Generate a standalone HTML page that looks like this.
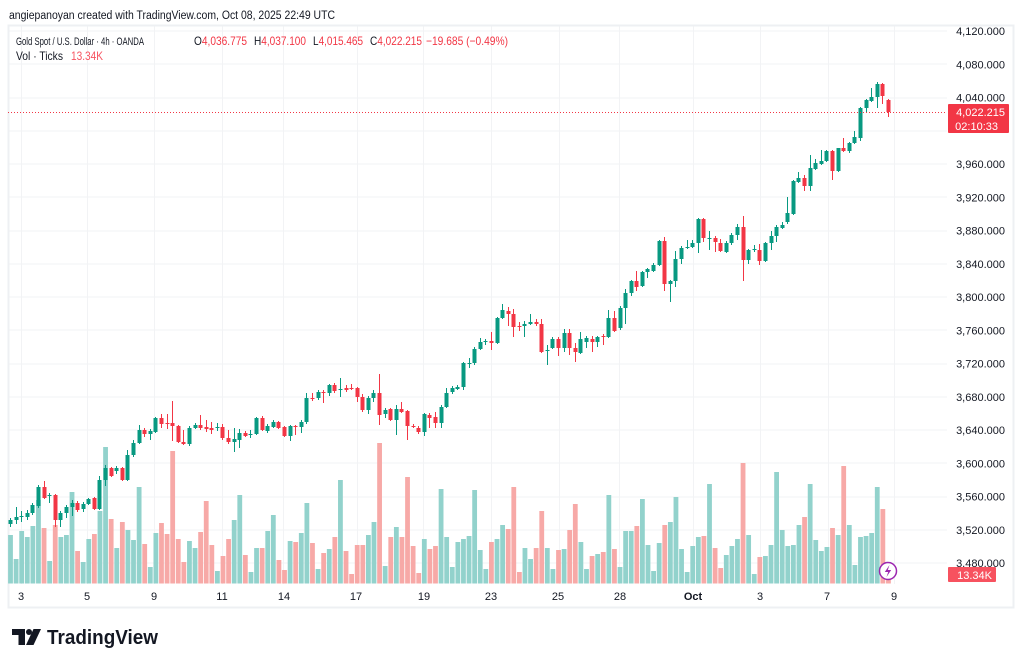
<!DOCTYPE html>
<html><head><meta charset="utf-8"><style>
html,body{margin:0;padding:0;background:#fff;}
svg{display:block;font-family:"Liberation Sans",sans-serif;}
</style></head><body>
<svg id="s" xmlns="http://www.w3.org/2000/svg" width="1024" height="665" viewBox="0 0 1024 665">
<rect x="0" y="0" width="1024" height="665" fill="#ffffff"/>
<g id="grid"></g>
<rect x="8.5" y="25.5" width="1005" height="582" fill="none" stroke="#eef0f3" stroke-width="2"/>
<g id="vol"></g>
<g id="cnd"></g>
<line x1="8" y1="112.5" x2="947" y2="112.5" stroke="#f23645" stroke-width="1" stroke-dasharray="1 2"/>
<!-- header -->
<text x="9" y="19" font-size="11.5" fill="#131722" textLength="326" lengthAdjust="spacingAndGlyphs">angiepanoyan created with TradingView.com, Oct 08, 2025 22:49 UTC</text>
<!-- legend -->
<g font-size="12" fill="#131722">
<text x="16" y="45" font-size="11" textLength="128" lengthAdjust="spacingAndGlyphs">Gold Spot / U.S. Dollar · 4h · OANDA</text>
<text x="194" y="45" textLength="53" lengthAdjust="spacingAndGlyphs"><tspan fill="#131722">O</tspan><tspan fill="#f23645">4,036.775</tspan></text>
<text x="254" y="45" textLength="52" lengthAdjust="spacingAndGlyphs"><tspan fill="#131722">H</tspan><tspan fill="#f23645">4,037.100</tspan></text>
<text x="313" y="45" textLength="50" lengthAdjust="spacingAndGlyphs"><tspan fill="#131722">L</tspan><tspan fill="#f23645">4,015.465</tspan></text>
<text x="370" y="45" textLength="52" lengthAdjust="spacingAndGlyphs"><tspan fill="#131722">C</tspan><tspan fill="#f23645">4,022.215</tspan></text>
<text x="426" y="45" fill="#f23645" textLength="82" lengthAdjust="spacingAndGlyphs">−19.685 (−0.49%)</text>
<text x="16" y="60" textLength="47" lengthAdjust="spacingAndGlyphs">Vol · Ticks</text>
<text x="71" y="60" fill="#f7525f" textLength="32" lengthAdjust="spacingAndGlyphs">13.34K</text>
</g>
<!-- price axis -->
<g id="pax" font-size="11" fill="#131722" text-anchor="end"></g>
<!-- price tag -->
<rect x="948" y="104" width="61" height="29" rx="1" fill="#f23645"/>
<text x="1005" y="116" font-size="11" fill="#ffffff" text-anchor="end">4,022.215</text>
<text x="998" y="130" font-size="11" fill="#ffffff" text-anchor="end">02:10:33</text>
<!-- volume tag -->
<rect x="948" y="567" width="48" height="15" rx="1" fill="#f7525f"/>
<text x="992" y="579" font-size="11" fill="#ffffff" text-anchor="end">13.34K</text>
<!-- time axis -->
<g font-size="11" fill="#131722" text-anchor="middle">
<text x="21" y="600">3</text>
<text x="87" y="600">5</text>
<text x="154" y="600">9</text>
<text x="222" y="600">11</text>
<text x="284" y="600">14</text>
<text x="356" y="600">17</text>
<text x="424" y="600">19</text>
<text x="491" y="600">23</text>
<text x="558" y="600">25</text>
<text x="620" y="600">28</text>
<text x="693" y="600" font-weight="bold">Oct</text>
<text x="760" y="600">3</text>
<text x="827" y="600">7</text>
<text x="894" y="600">9</text>
</g>
<!-- lightning icon -->
<circle cx="888" cy="571" r="8.5" fill="#ffffff" stroke="#9c27b0" stroke-width="1.5"/>
<path d="M889.5 565 L884.8 572 L888.2 572 L886.5 577 L891.2 570 L887.8 570 Z" fill="#9c27b0"/>
<!-- TradingView logo -->
<path d="M12 629 H25 V645 H18.5 V635 H12 Z" fill="#131722"/>
<circle cx="29" cy="632" r="3" fill="#131722"/>
<path d="M33.5 629 H41 L33.5 645 H26 Z" fill="#131722"/>
<text x="47" y="644" font-size="20" font-weight="bold" fill="#131722" textLength="111" lengthAdjust="spacingAndGlyphs">TradingView</text>
</svg>
<script>
(function(){
var NS="http://www.w3.org/2000/svg";
function el(p,t,a){var e=document.createElementNS(NS,t);for(var k in a)e.setAttribute(k,a[k]);p.appendChild(e);return e;}
var grid=document.getElementById('grid'),vol=document.getElementById('vol'),cnd=document.getElementById('cnd'),pax=document.getElementById('pax');
for(var k=0;k<17;k++){
 var y=31+k*33.25;var p=4120-40*k;
 el(grid,'rect',{x:9,y:Math.round(y)-0.5,width:938,height:1,fill:'#f2f3f5'});
 if(p!==4000){var t=el(pax,'text',{x:1005,y:(y+4).toFixed(1)});
 var s=p.toString();t.textContent=s.charAt(0)+','+s.slice(1)+'.000';}
}
var vx=[21,87,154,222,283,357,423,491,559,619,693,760,828,894];
vx.forEach(function(x){el(grid,'rect',{x:x,y:26,width:1,height:558,fill:'#f2f3f5'});});
var C=[[524,520,518,527],[520,517,507,524],[517,516,511,522],[517,513,510,520],[513,505,503,515],[506,487,485,508],[487,498,481,499],[496,495,493,503],[495,520,494,527],[520,513,511,527],
[513,507,505,518],[507,503,500,516],[503,510,501,512],[509,504,502,512],[504,499,498,505],[498,509,497,510],[509,480,476,510],[480,468,465,486],[468,476,467,477],[471,468,466,474],
[468,480,467,481],[480,455,450,481],[455,443,440,457],[443,430,425,444],[430,434,428,437],[434,431,429,440],[432,418,417,433],[418,424,414,428],[423,424,414,429],[423,426,401,441],
[426,442,425,443],[442,444,430,445],[444,428,426,446],[428,425,423,429],[425,428,415,430],[427,429,420,432],[428,430,422,434],[428,427,423,431],[427,438,424,440],[438,442,430,444],
[442,439,428,452],[440,433,429,448],[433,436,431,437],[435,434,430,438],[434,418,417,435],[418,430,416,431],[431,426,424,433],[427,422,420,428],[422,428,421,429],[427,436,426,437],
[436,426,425,441],[426,427,425,435],[427,422,420,433],[422,398,393,424],[398,399,393,401],[398,392,390,400],[392,393,390,403],[393,385,384,396],[385,391,383,393],[389,389,378,397],
[388,390,385,392],[388,389,384,390],[388,397,387,402],[397,410,394,412],[410,398,396,414],[398,393,390,402],[393,415,374,425],[414,410,408,418],[409,420,408,421],[420,409,405,435],
[409,412,402,413],[411,426,410,440],[426,427,424,428],[428,432,426,434],[432,414,413,436],[415,418,413,428],[417,423,412,428],[423,407,405,428],[407,393,388,408],[392,388,386,394],
[389,387,385,390],[387,363,362,390],[364,363,358,368],[363,349,347,365],[349,342,338,350],[342,341,339,345],[341,343,332,350],[343,318,317,344],[318,310,304,319],[311,314,307,326],
[314,327,309,337],[326,327,322,331],[326,324,321,337],[324,322,314,325],[322,324,319,326],[324,352,319,353],[351,350,345,365],[348,339,337,349],[339,348,337,356],[348,333,329,352],
[333,348,329,355],[348,352,343,362],[353,339,332,354],[342,338,336,348],[339,342,336,352],[342,337,336,347],[336,337,334,345],[337,318,310,338],[318,331,311,332],[328,308,306,330],
[308,293,289,324],[293,281,280,296],[281,287,271,291],[286,272,271,287],[272,269,268,278],[271,265,263,272],[265,241,240,266],[241,284,237,291],[284,281,280,302],[281,259,251,287],
[259,248,246,264],[248,247,240,249],[247,243,240,248],[243,219,218,253],[219,238,218,242],[238,238,231,250],[238,242,236,252],[243,251,239,252],[252,243,241,253],[243,235,233,245],
[235,227,224,240],[227,260,216,281],[260,250,249,264],[250,249,245,252],[250,261,244,265],[261,243,242,262],[243,236,231,250],[236,227,225,242],[228,225,222,229],[222,213,197,224],
[214,181,180,215],[182,178,172,183],[178,186,175,191],[186,168,155,191],[169,163,159,170],[164,161,150,165],[161,151,150,162],[151,171,150,180],[171,148,148,172],[148,151,138,152],
[151,143,142,153],[143,137,131,144],[138,108,107,141],[108,100,99,112],[101,97,88,102],[97,84,82,108],[84,96,83,104],[100,112,99,117]];
var V=[535,559,531,537,526,500,528,561,525,537,535,492,551,562,539,534,511,447,519,548,522,530,540,487,544,567,533,523,534,451,539,562,541,548,532,501,545,571,556,539,520,495,555,572,548,548,531,515,560,570,541,542,533,503,543,569,553,549,537,480,551,574,545,545,535,522,443,566,537,527,537,477,546,573,539,549,546,489,537,567,542,539,536,490,550,569,542,539,525,529,487,572,548,559,548,511,548,569,550,549,530,504,542,569,556,554,552,495,549,567,531,531,526,499,545,571,543,525,522,497,549,572,546,537,536,484,548,568,555,546,539,463,535,574,557,556,545,472,530,546,545,525,517,484,540,551,547,528,535,466,525,565,537,536,533,487,509,577];
var BASE=583.5;
for(var i=0;i<C.length;i++){
 var c=C[i],x=10+i*5.592,up=c[1]<=c[0];
 var vy=V[i];
 el(vol,'rect',{x:(x-1.9).toFixed(2),y:vy,width:4.8,height:(BASE-vy).toFixed(1),fill:up?'#92d2cc':'#f7a9a7'});
 var col=up?'#089981':'#f23645';
 var cx=Math.round(x);
 el(cnd,'rect',{x:cx,y:c[2],width:1,height:Math.max(1,c[3]-c[2]),fill:col});
 var top=Math.min(c[0],c[1]),h=Math.max(1,Math.abs(c[1]-c[0]));
 el(cnd,'rect',{x:cx-1.5,y:top,width:4,height:h,fill:col});
}
})();
</script>
</body></html>
